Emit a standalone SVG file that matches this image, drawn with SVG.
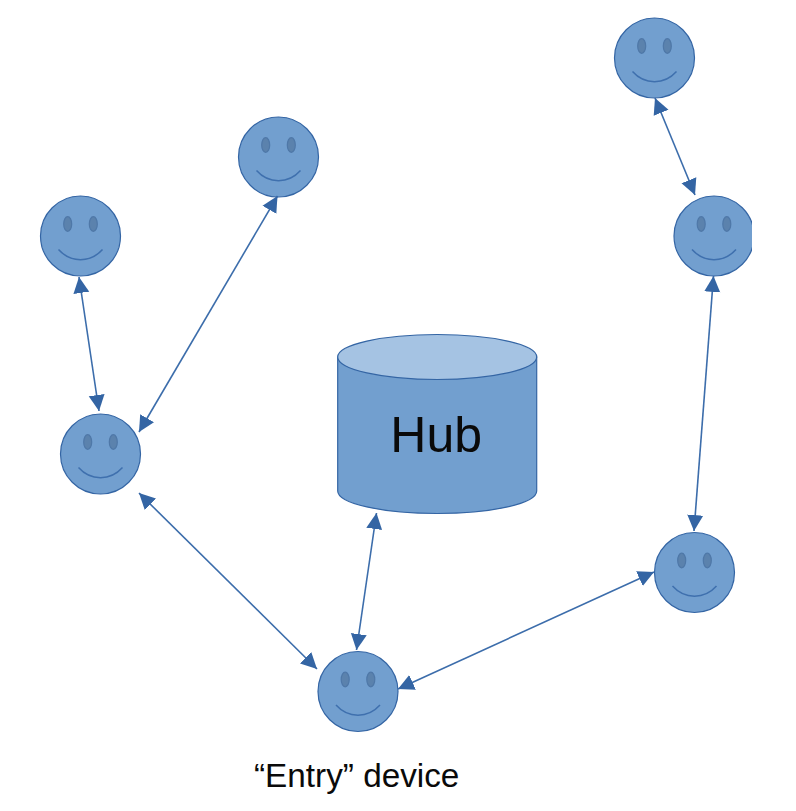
<svg xmlns="http://www.w3.org/2000/svg" width="796" height="811" viewBox="0 0 796 811">
<style>
.body{fill:#729fcf;stroke:#3465a4;stroke-width:1.2}
.eye{fill:#5b82ad;stroke:#4f78a8;stroke-width:1.2}
.smile{fill:none;stroke:#3f70ae;stroke-width:1.5}
.top{fill:#a5c3e3;stroke:#3465a4;stroke-width:1.2}
.link{fill:none;stroke:#3c6dab;stroke-width:1.6;marker-start:url(#ah);marker-end:url(#ah)}
text{font-family:"Liberation Sans",Arial,sans-serif;fill:#0a0a0a}
</style>
<defs>
<marker id="ah" markerUnits="userSpaceOnUse" markerWidth="18" markerHeight="18" refX="16" refY="9" orient="auto-start-reverse"><path d="M0,1L16,9L0,17Z" fill="#3465a4"/></marker>
<g id="face">
<circle class="body" r="40"/>
<ellipse class="eye" cx="-12.8" cy="-12" rx="4" ry="7.3"/>
<ellipse class="eye" cx="12.8" cy="-12" rx="4" ry="7.3"/>
<path class="smile" d="M-22,13.5C-10,27 10,27 22,13.5"/>
</g>
<clipPath id="clipR"><rect x="660" y="190" width="92" height="92"/></clipPath>
</defs>
<rect width="796" height="811" fill="#fff"/>
<g id="n1"><use href="#face" x="278.5" y="157"/></g>
<g id="n2"><use href="#face" x="80.5" y="236"/></g>
<g id="n3"><use href="#face" x="100.5" y="454"/></g>
<g id="n4"><use href="#face" x="358" y="691.5"/></g>
<g id="n5"><use href="#face" x="694.5" y="572.5"/></g>
<g id="n6" clip-path="url(#clipR)"><use href="#face" x="714" y="236"/></g>
<g id="n7"><use href="#face" x="654.5" y="58"/></g>
<g id="hub">
<path class="body" d="M337.7,357V491A99.5,22.5 0 0 0 536.7,491V357Z"/>
<ellipse class="top" cx="437.2" cy="357" rx="99.5" ry="22.5"/>
<text x="436.2" y="452" font-size="50" text-anchor="middle">Hub</text>
</g>
<g id="connectors">
<line class="link" x1="79" y1="277" x2="99" y2="411"/>
<line class="link" x1="277.5" y1="196" x2="139" y2="432"/>
<line class="link" x1="139" y1="493" x2="317" y2="669"/>
<line class="link" x1="376.5" y1="513" x2="356.5" y2="650"/>
<line class="link" x1="398" y1="689" x2="654" y2="572"/>
<line class="link" x1="713.5" y1="276" x2="694" y2="531"/>
<line class="link" x1="655" y1="98" x2="695" y2="195"/>
</g>
<g id="label"><text x="254" y="787" font-size="33.3">“Entry” device</text></g>
</svg>
